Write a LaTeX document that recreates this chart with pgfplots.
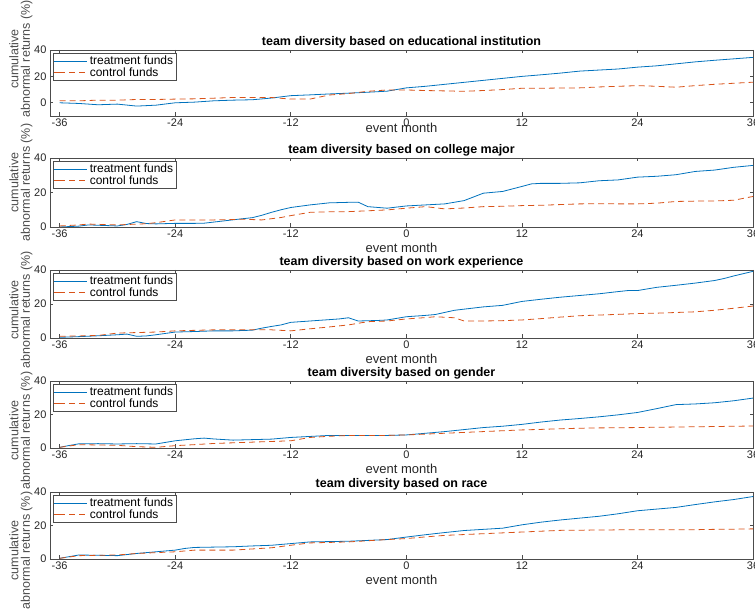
\documentclass[border=0pt]{standalone}
\usepackage{fontspec}
\setmainfont{Liberation Sans}
\usepackage{pgfplots}
\pgfplotsset{compat=1.18}
\definecolor{mblue}{rgb}{0,0.447,0.741}
\definecolor{morange}{rgb}{0.85,0.325,0.098}
\pgfplotsset{
 panel/.style={
  scale only axis, width=703pt,
  xmin=-37, xmax=36, xtick={-36,-24,...,36},
  ytick={0,20,40},
  tick align=inside, tick pos=both, major tick length=3.5pt,
  axis line style={draw=black!70, line width=0.6pt},
  every tick/.style={black!70, line width=0.6pt},
  tick label style={font=\fontsize{11}{12}\selectfont, text=black!85},
  xticklabel style={yshift=1pt},
  /pgf/number format/assume math mode=true,
  title style={font=\bfseries\fontsize{12.5}{13}\selectfont, yshift=-8pt},
  xlabel={event month},
  xlabel style={font=\fontsize{13}{14}\selectfont, text=black!85, yshift=1pt},
  ylabel={cumulative\\abnormal returns (\%)},
  ylabel style={align=center, font=\fontsize{12.5}{11.5}\selectfont, text=black!70,
     anchor=south, inner sep=0pt},
  legend style={at={(axis description cs:0,1)}, anchor=north west, xshift=3pt, yshift=-3pt,
     font=\fontsize{12}{12.5}\selectfont, draw=black!70, inner sep=0.8pt, row sep=-2.5pt,
     legend cell align=left},
  legend image code/.code={\path (0pt,0pt) -- (5pt,0pt); \draw[##1] (5pt,0pt) -- (33pt,0pt);},
 },
 ylpos/.style={ylabel style={at={(axis description cs:-0.0245,#1)}}},
 tr/.style={mblue, line width=0.8pt},
 ct/.style={morange, line width=0.8pt, dash pattern=on 6pt off 4pt},
}
\begin{document}
\begin{tikzpicture}
\path[use as bounding box] (0,0) rectangle (755pt,610pt);
% Panel 1
\begin{axis}[panel, at={(50pt,494pt)}, anchor=south west, height=66pt, ymin=-10, ymax=40,
  title={team diversity based on educational institution}, xlabel style={yshift=9pt}, ylpos=0.864]
\addplot[tr] coordinates {(-36,0) (-34,-0.5) (-32,-1.5) (-30,-1) (-28,-2.5) (-26,-1.8) (-24,0) (-22,0.5) (-20,1.5) (-18,2) (-16,2.3) (-14,3.6) (-12,5.4) (-10,6) (-8,6.7) (-6,7.3) (-4,8) (-2,8.8) (0,11.3) (2,12.5) (4,14) (6,15.5) (8,17) (10,18.5) (12,20) (14,21.2) (16,22.5) (18,24) (20,24.8) (22,25.6) (24,27) (26,28) (28,29.5) (30,31) (32,32.2) (34,33.3) (36,34.4)};
\addlegendentry{treatment funds}
\addplot[ct] coordinates {(-36,1.5) (-34,1.5) (-32,2) (-30,2) (-28,2.5) (-26,2.5) (-24,2.8) (-22,3) (-20,3.5) (-18,4) (-16,4) (-14,4) (-12,2.8) (-10,2.8) (-8,5.9) (-6,7) (-4,8.7) (-2,9.7) (0,9.7) (2,9.3) (4,9) (6,8.7) (8,9.3) (10,10) (12,11) (14,11) (16,11.2) (18,11.3) (20,12) (22,12.5) (24,13) (26,12.5) (28,11.8) (30,13) (32,14) (34,14.8) (36,15.6)};
\addlegendentry{control funds}
\end{axis}
% Panel 2
\begin{axis}[panel, at={(50pt,383pt)}, anchor=south west, height=69pt, ymin=0, ymax=40,
  title={team diversity based on college major}, ylpos=0.645]
\addplot[tr] coordinates {(-36,0) (-34,0.5) (-33,1.2) (-31,0.8) (-30,0.6) (-29,1.5) (-28,3.1) (-27,2) (-26,1.8) (-24,2.1) (-22,2.1) (-21,2.2) (-19,3.5) (-17,4.8) (-16,5.4) (-15,6.8) (-14,8.5) (-13,10) (-12,11.3) (-10,12.8) (-8,14) (-6,14.3) (-5,14.4) (-4,11.8) (-2,10.9) (0,12.2) (2,12.8) (4,13.4) (6,15.3) (8,19.6) (10,20.6) (12,23.5) (13,25) (14,25.3) (16,25.3) (18,25.6) (20,26.8) (22,27.3) (24,28.9) (26,29.4) (28,30.3) (30,32.2) (32,33) (34,34.6) (36,35.7)};
\addlegendentry{treatment funds}
\addplot[ct] coordinates {(-36,0.6) (-34,1.2) (-33,1.7) (-30,1.2) (-27,1.9) (-26,2.5) (-24,4.1) (-22,4.1) (-20,4.1) (-17,4.5) (-15,4.1) (-13,5.5) (-12,6.6) (-10,8.5) (-8,8.8) (-6,8.9) (-4,9.4) (-2,9.9) (0,10.9) (2,11.8) (4,10.5) (6,11) (8,11.8) (10,12) (12,12.4) (14,12.6) (16,13) (18,13.4) (20,13.5) (22,13.4) (24,13.4) (26,13.8) (28,14.8) (30,15) (32,15.1) (34,15.5) (36,17.7)};
\addlegendentry{control funds}
\end{axis}
% Panel 3
\begin{axis}[panel, at={(50pt,272pt)}, anchor=south west, height=68pt, ymin=0, ymax=40,
  title={team diversity based on work experience}, ylpos=0.412]
\addplot[tr] coordinates {(-36,0.4) (-34,0.8) (-32,1.3) (-30,1.9) (-29,2.3) (-28,1) (-27,1.2) (-26,1.9) (-24,3.5) (-22,3.8) (-20,4.2) (-18,4.2) (-16,4.6) (-15,5.8) (-14,6.8) (-13,7.7) (-12,9.2) (-10,10) (-8,10.8) (-7,11.2) (-6,11.9) (-5,10) (-3,10.3) (-2,10.6) (0,12.5) (2,13.3) (3,13.8) (5,16.3) (8,18.3) (10,19.2) (12,21.5) (14,22.8) (16,24) (18,25) (20,26) (22,27.3) (23,27.9) (24,27.9) (26,29.8) (28,31) (30,32.3) (32,33.8) (33,35) (34,36.5) (36,39.2)};
\addlegendentry{treatment funds}
\addplot[ct] coordinates {(-36,1) (-34,1.2) (-32,1.5) (-30,2.9) (-28,3.2) (-26,3.5) (-24,4.2) (-22,4.5) (-20,4.8) (-18,4.8) (-16,4.8) (-14,4.8) (-12,4.2) (-10,5.4) (-8,6.5) (-6,7.7) (-4,9.6) (-2,10) (0,11.2) (2,12) (3,12.5) (5,11.9) (6,10) (8,10) (10,10.2) (12,10.6) (14,11.4) (16,12.3) (18,13.1) (20,13.5) (22,13.9) (24,14.4) (26,14.6) (28,15) (30,15.4) (32,16.3) (34,17.5) (36,18.8)};
\addlegendentry{control funds}
\end{axis}
% Panel 4
\begin{axis}[panel, at={(50pt,162pt)}, anchor=south west, height=67pt, ymin=0, ymax=40,
  title={team diversity based on gender}, ylpos=0.261]
\addplot[tr] coordinates {(-36,0.4) (-35,1.5) (-34,2.5) (-32,2.6) (-30,2.4) (-28,2.6) (-26,2.4) (-24,4.3) (-22,5.5) (-21,5.9) (-20,5.4) (-18,4.7) (-16,5) (-14,5.3) (-12,6.3) (-10,6.9) (-8,7.5) (-6,7.5) (-4,7.5) (-2,7.5) (0,7.8) (2,8.8) (4,9.8) (6,11) (8,12.2) (10,13) (12,14.1) (14,15.5) (16,16.7) (18,17.6) (20,18.6) (22,19.8) (24,21.2) (26,23.5) (28,25.9) (30,26.3) (32,27) (34,28.2) (36,29.8)};
\addlegendentry{treatment funds}
\addplot[ct] coordinates {(-36,0.4) (-35,1.2) (-34,2) (-32,1.8) (-30,1.6) (-28,0.8) (-26,0.4) (-24,1.4) (-22,2) (-20,2.7) (-18,3.1) (-16,3.5) (-14,3.9) (-12,4.3) (-11,5.3) (-10,6.3) (-8,7) (-6,7.5) (-4,7.5) (-2,7.5) (0,7.8) (2,8.3) (4,8.8) (6,9.3) (8,9.8) (10,10.3) (12,10.8) (14,11.1) (16,11.5) (18,11.8) (20,12) (22,12.1) (24,12.2) (26,12.4) (28,12.5) (30,12.7) (32,12.8) (34,13) (36,13.1)};
\addlegendentry{control funds}
\end{axis}
% Panel 5
\begin{axis}[panel, at={(50pt,51pt)}, anchor=south west, height=67pt, ymin=0, ymax=40,
  title={team diversity based on race}, ylpos=0.127]
\addplot[tr] coordinates {(-36,0.4) (-35,1.4) (-34,2.4) (-32,2.2) (-30,2) (-28,3.3) (-26,4.3) (-24,5.3) (-23,6.3) (-22,6.9) (-20,7.1) (-18,7.3) (-16,7.8) (-14,8.2) (-12,9.2) (-10,10.2) (-8,10.4) (-6,10.6) (-4,11.1) (-2,11.6) (0,13.1) (2,14.5) (4,15.8) (6,17) (8,17.7) (10,18.4) (12,20.4) (14,22) (16,23.3) (18,24.4) (20,25.5) (22,27) (24,28.8) (26,29.8) (28,30.8) (30,32.5) (32,34.1) (34,35.5) (36,37.3)};
\addlegendentry{treatment funds}
\addplot[ct] coordinates {(-36,0.4) (-35,1.2) (-34,2) (-32,2.2) (-30,2.4) (-28,3.3) (-26,3.8) (-24,4.3) (-22,5.3) (-20,5.3) (-18,5.3) (-16,6) (-14,6.7) (-12,8.2) (-10,9.6) (-8,9.9) (-6,10.2) (-4,10.9) (-2,11.6) (0,12.2) (2,13.2) (4,14.1) (6,14.6) (8,15.1) (10,15.6) (12,16.1) (14,16.6) (16,17.1) (20,17.3) (24,17.5) (28,17.5) (30,17.5) (32,17.7) (34,17.8) (36,18)};
\addlegendentry{control funds}
\end{axis}
\end{tikzpicture}
\end{document}
